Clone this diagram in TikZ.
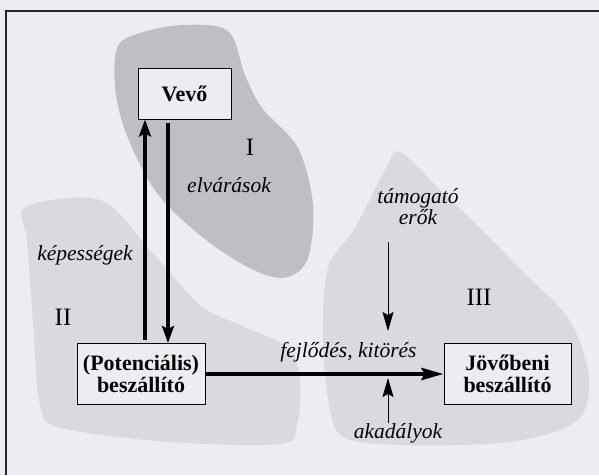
\documentclass[tikz,border=0pt]{standalone}
\usepackage{fontspec}
\setmainfont{Liberation Serif}
\usetikzlibrary{arrows.meta}
\definecolor{bg}{HTML}{ECEDF3}
\definecolor{blobdark}{HTML}{BEBEC4}
\definecolor{bloblight}{HTML}{D9D9DF}
\begin{document}
\begin{tikzpicture}[x=1pt,y=-1pt,
  box/.style={draw, line width=1pt, fill=bg, font=\fontsize{22}{22}\selectfont\bfseries, align=center, inner sep=0pt},
  lbl/.style={font=\fontsize{21.5}{21}\selectfont\itshape, align=center, inner sep=0pt},
  num/.style={font=\fontsize{25}{25}\selectfont, inner sep=0pt},
  thickarrow/.style={line width=4pt, -{Stealth[length=17pt,width=12pt,inset=3pt]}},
  thinarrow/.style={line width=0.9pt, -{Stealth[length=19pt,width=11pt,inset=3pt]}}]
\fill[bg] (0,0) rectangle (599,475);
\useasboundingbox (0,0) rectangle (599,475);
% shaded regions
\fill[bloblight] plot[smooth cycle, tension=0.55] coordinates {(26,207) (100,200) (150,250) (200,305) (245,327) (287,347) (300,378) (297,425) (280,444) (170,442) (62,428) (40,405) (33,320) (27,240)};
\fill[bloblight] plot[smooth cycle, tension=0.55] coordinates {(400,152) (440,190) (480,228) (523,272) (568,318) (588,370) (585,410) (560,430) (500,443) (400,445) (345,438) (330,410) (323,340) (328,268) (355,228) (385,170)};
\fill[blobdark] plot[smooth cycle, tension=0.55] coordinates {(117,48) (140,33) (183,25) (228,31) (245,75) (262,108) (298,148) (313,205) (308,258) (288,277) (258,272) (210,243) (160,197) (130,143) (116,95)};
% frame
\draw[line width=1.5pt, black!85] (6,475) -- (6,11) -- (599,11);
% boxes
\node[box, minimum width=93pt, minimum height=51pt] (vevo) at (184.5,93.5) {Vevő};
\node[box, minimum width=128pt, minimum height=61pt] (pot) at (141,374) {(Potenciális)\\beszállító};
\node[box, minimum width=127pt, minimum height=61pt] (jov) at (507.5,374) {Jövőbeni\\beszállító};
% labels
\node[lbl] (elv) at (229,185) {elvárások};
\node[lbl] (kep) at (85,255) {képességek};
\node[lbl] (fej) at (348.5,352) {fejlődés, kitörés};
\node[lbl] (tam) at (418,207) {támogató\\erők};
\node[lbl] (aka) at (398,433) {akadályok};
\node[num] (n1) at (250,147) {I};
\node[num] (n2) at (63,317) {II};
\node[num] (n3) at (479,297) {III};
% arrows
\coordinate (upx) at (145,0);
\coordinate (dnx) at (168,0);
\coordinate (tx) at (388,0);
\draw[thickarrow, shorten <=3pt] (pot.north -| upx) -- (vevo.south -| upx);
\draw[thickarrow, shorten <=3pt] (vevo.south -| dnx) -- (pot.north -| dnx);
\draw[line width=4pt, -{Stealth[length=22pt,width=12pt,inset=3pt]}] (pot.east) -- (jov.west);
\coordinate (tstart) at (388,242);
\coordinate (ttip) at (388,331);
\draw[thinarrow] (tstart) -- (ttip);
\coordinate (atip) at (388,378);
\draw[thinarrow] (aka.north -| tx) -- (atip);
\end{tikzpicture}
\end{document}
